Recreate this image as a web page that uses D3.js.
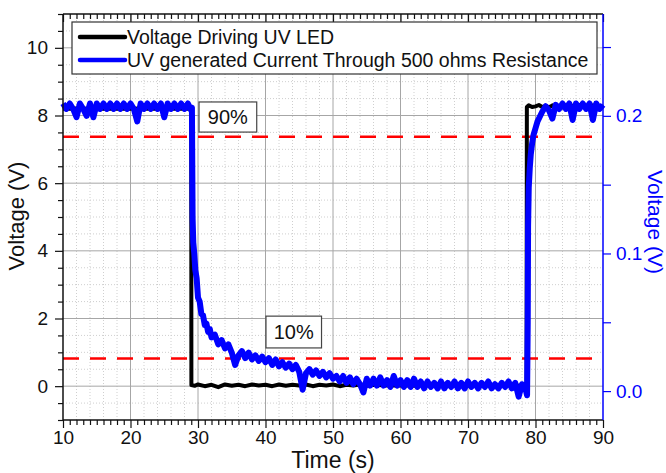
<!DOCTYPE html>
<html><head><meta charset="utf-8">
<script src="https://cdn.jsdelivr.net/npm/d3@7"></script>
<style>body{margin:0;background:#fff}svg{display:block;font-family:"Liberation Sans",Arial,sans-serif}</style>
</head><body><svg id="c" width="666" height="473"></svg>
<script>
// ---------- data ----------
const xTickValues = [10,20,30,40,50,60,70,80,90];
const yLeftTickValues = [0,2,4,6,8,10];
const yRightTickValues = [0,0.05,0.1,0.15,0.2,0.25];
const yRightLabelled = [0,0.1,0.2];
const legendLabels = ["Voltage Driving UV LED","UV generated Current Through 500 ohms Resistance"];
const thresholdValues = [7.37, 0.82];          // 90% and 10% levels (left axis, V)
const thresholdLabels = ["90%","10%"];

// Voltage driving the UV LED (left axis, V)
const blackTime = [10,12,14,16,18,20,22,24,26,28,29.0,29.02,29.5,30,31,32,33,34,35,36,37,38,39,40,41,42,43,44,45,46,47,48,49,50,51,52,53,54,55,56,58,60,62,64,66,68,70,72,74,76,78,78.68,78.72,79,79.5,80,80.5,81,81.5,82,82.5,83,83.5,84,84.5,85,85.5,86,86.5,87,87.5,88,88.5,89,89.5,90];
const blackValue = [8.2,8.21,8.2,8.21,8.2,8.21,8.2,8.21,8.2,8.21,8.2,0.03,0.01,0.05,0.0,0.04,-0.03,0.05,0.01,0.04,0.0,0.05,0.02,0.04,0.0,0.05,0.01,0.04,0.02,0.05,0.0,0.04,0.02,0.05,0.0,0.04,0.02,0.05,0.01,0.04,0.02,0.03,0.01,0.04,0.02,0.03,0.01,0.04,0.02,0.03,0.01,0.03,8.25,8.30,8.25,8.27,8.31,8.25,8.28,8.24,8.30,8.26,8.29,8.24,8.30,8.26,8.29,8.25,8.31,8.26,8.28,8.24,8.30,8.25,8.28,8.26,8.29,8.27];

// UV generated current through 500 ohm (right axis, V)
const blueTime = [10,10.5,11,11.5,12,12.5,13,13.5,14,14.5,15,15.5,16,16.5,17,17.5,18,18.5,19,19.5,20,20.5,21,21.5,22,22.5,23,23.5,24,24.5,25,25.5,26,26.5,27,27.5,28,28.5,29,29.1,
29.2,29.3,29.45,29.6,29.8,30,30.25,30.5,30.75,31,31.25,31.5,31.75,32,32.5,33,33.5,34,34.5,35,35.5,36,36.5,37,37.5,38,38.5,39,39.5,40,40.5,41,41.5,42,42.5,43,43.5,44,44.5,45,45.5,46,46.5,47,47.5,48,48.5,49,49.5,50,
50.5,51,51.5,52,52.5,53,53.5,54,54.5,55,55.5,56,56.5,57,57.5,58,58.5,59,59.5,60,60.5,61,61.5,62,62.5,63,63.5,64,64.5,65,65.5,66,66.5,67,67.5,68,68.5,69,69.5,70,70.5,71,71.5,72,72.5,73,73.5,74,74.5,75,75.5,76,76.5,77,77.5,78,78.5,78.75,
78.85,78.9,79,79.15,79.3,79.5,79.7,80,80.3,80.6,81,81.5,82,82.5,83,83.5,84,84.5,85,85.5,86,86.5,87,87.5,88,88.5,89,89.5,90];
const blueValue = [0.209,0.205,0.209,0.205,0.199,0.209,0.205,0.200,0.209,0.199,0.209,0.205,0.209,0.205,0.209,0.205,0.209,0.205,0.209,0.205,0.209,0.205,0.196,0.209,0.205,0.209,0.205,0.209,0.205,0.209,0.199,0.209,0.205,0.209,0.205,0.209,0.205,0.209,0.204,0.206,
0.126,0.108,0.100,0.088,0.082,0.068,0.065,0.056,0.055,0.048,0.049,0.043,0.045,0.039,0.041,0.034,0.037,0.031,0.034,0.028,0.019,0.026,0.029,0.024,0.028,0.023,0.026,0.022,0.025,0.021,0.024,0.019,0.023,0.018,0.021,0.017,0.020,0.016,0.019,0.014,0.001,0.013,0.016,0.012,0.015,0.011,0.014,0.010,0.013,0.009,
0.011,0.007,0.011,0.006,0.010,0.005,0.009,0.005,-0.001,0.009,0.004,0.009,0.004,0.010,0.004,0.008,0.003,0.011,0.004,0.008,0.003,0.008,0.003,0.009,0.003,0.007,0.002,0.007,0.003,0.006,0.002,0.007,0.002,0.006,0.003,0.007,0.002,0.006,0.002,0.007,0.003,0.006,0.002,0.006,0.003,0.007,0.002,0.005,0.002,0.006,0.003,0.007,0.002,0.006,-0.004,0.005,0.002,-0.003,
0.05,0.12,0.148,0.162,0.172,0.180,0.186,0.191,0.196,0.199,0.203,0.207,0.204,0.198,0.208,0.205,0.209,0.205,0.209,0.197,0.209,0.205,0.209,0.205,0.209,0.197,0.209,0.205,0.208];

// ---------- drawing ----------
const L = 63, R = 603, T = 14, B = 420;
const svg = d3.select("#c");
const x = d3.scaleLinear().domain([10,90]).range([L,R]);
const yL = d3.scaleLinear().domain([-1,11]).range([B,T]);
const yR = d3.scaleLinear().domain([-0.021,0.274]).range([B,T]);
const BLUE = "#0000ff";

// minor dotted grid
const xMinor = d3.range(12,90,2).filter(v => v % 10 !== 0);
const yMinor = d3.range(-0.5,11,0.5).filter(v => v % 2 !== 0);
const g = svg.append("g");
g.selectAll(".vxm").data(xMinor).join("line")
  .attr("x1",d=>x(d)).attr("x2",d=>x(d)).attr("y1",T).attr("y2",B)
  .attr("stroke","#cfcfcf").attr("stroke-width",1).attr("stroke-dasharray","1,2");
g.selectAll(".hym").data(yMinor).join("line")
  .attr("x1",L).attr("x2",R).attr("y1",d=>yL(d)).attr("y2",d=>yL(d))
  .attr("stroke","#cfcfcf").attr("stroke-width",1).attr("stroke-dasharray","1,2");
// major grid
g.selectAll(".vx").data(xTickValues.slice(1,-1)).join("line")
  .attr("x1",d=>x(d)).attr("x2",d=>x(d)).attr("y1",T).attr("y2",B)
  .attr("stroke","#a6a6a6").attr("stroke-width",1);
g.selectAll(".hy").data(yLeftTickValues).join("line")
  .attr("x1",L).attr("x2",R).attr("y1",d=>yL(d)).attr("y2",d=>yL(d))
  .attr("stroke","#a6a6a6").attr("stroke-width",1);

// threshold lines
svg.selectAll(".thr").data(thresholdValues).join("line")
  .attr("x1",L).attr("x2",R).attr("y1",d=>yL(d)).attr("y2",d=>yL(d))
  .attr("stroke","#ff0000").attr("stroke-width",2.5).attr("stroke-dasharray","16,11");

// data lines
const blackData = blackTime.map((t,i)=>[t,blackValue[i]]);
const blueData = blueTime.map((t,i)=>[t,blueValue[i]]);
svg.append("path").datum(blackData)
  .attr("d", d3.line().x(d=>x(d[0])).y(d=>yL(d[1])))
  .attr("fill","none").attr("stroke","#000").attr("stroke-width",4).attr("stroke-linejoin","round");
svg.append("path").datum(blueData)
  .attr("d", d3.line().x(d=>x(d[0])).y(d=>yR(d[1])))
  .attr("fill","none").attr("stroke",BLUE).attr("stroke-width",6).attr("stroke-linejoin","round");

// annotation boxes
const annot = [{t:thresholdLabels[0], x0:30.15, x1:38.7, y0:8.40, y1:7.51},
               {t:thresholdLabels[1], x0:40.07, x1:48.3, y0:2.07, y1:1.13}];
annot.forEach(a=>{
  svg.append("rect").attr("x",x(a.x0)).attr("y",yL(a.y0))
    .attr("width",x(a.x1)-x(a.x0)).attr("height",yL(a.y1)-yL(a.y0))
    .attr("fill","#fff").attr("stroke","#444").attr("stroke-width",1.2);
  svg.append("text").attr("x",(x(a.x0)+x(a.x1))/2).attr("y",(yL(a.y0)+yL(a.y1))/2+7)
    .attr("text-anchor","middle").attr("font-size",20).attr("fill","#111").text(a.t);
});

// axes
const fmtNone = () => "";
const xMinorTicks = d3.range(10,91,1).filter(v => v % 10 !== 0);
const yMinorTicks = d3.range(-1,11.01,0.5).filter(v => v % 2 !== 0);
function styleAxis(sel, col){
  sel.selectAll("path").remove();
  sel.selectAll("line").attr("stroke",col).attr("stroke-width",1.2);
  sel.selectAll("text").attr("fill",col).attr("font-size",19).attr("font-family","Liberation Sans, Arial, sans-serif");
}
svg.append("g").attr("transform",`translate(0,${B})`)
  .call(d3.axisBottom(x).tickValues(xTickValues).tickSize(8).tickPadding(3).tickFormat(d3.format("d")))
  .call(s=>styleAxis(s,"#111"));
svg.append("g").attr("transform",`translate(0,${B})`)
  .call(d3.axisBottom(x).tickValues(xMinorTicks).tickSize(5).tickFormat(fmtNone))
  .call(s=>styleAxis(s,"#111"));
svg.append("g").attr("transform",`translate(0,${T})`)
  .call(d3.axisBottom(x).tickValues(xTickValues).tickSize(8).tickFormat(fmtNone))
  .call(s=>styleAxis(s,"#111"));
svg.append("g").attr("transform",`translate(0,${T})`)
  .call(d3.axisBottom(x).tickValues(xMinorTicks).tickSize(5).tickFormat(fmtNone))
  .call(s=>styleAxis(s,"#111"));
svg.append("g").attr("transform",`translate(${L},0)`)
  .call(d3.axisLeft(yL).tickValues(yLeftTickValues).tickSize(8).tickPadding(7).tickFormat(d3.format("d")))
  .call(s=>styleAxis(s,"#111"));
svg.append("g").attr("transform",`translate(${L},0)`)
  .call(d3.axisLeft(yL).tickValues(yMinorTicks).tickSize(5).tickFormat(fmtNone))
  .call(s=>styleAxis(s,"#111"));
svg.append("g").attr("transform",`translate(${R},0)`)
  .call(d3.axisRight(yR).tickValues(yRightTickValues).tickSize(8).tickPadding(5)
    .tickFormat(d => yRightLabelled.some(v=>Math.abs(v-d)<1e-9) ? d3.format(".1f")(d) : ""))
  .call(s=>styleAxis(s,BLUE));

// frame
svg.append("line").attr("x1",L).attr("x2",R).attr("y1",B).attr("y2",B).attr("stroke","#111").attr("stroke-width",1.5);
svg.append("line").attr("x1",L).attr("x2",R).attr("y1",T).attr("y2",T).attr("stroke","#111").attr("stroke-width",1.5);
svg.append("line").attr("x1",L).attr("x2",L).attr("y1",T).attr("y2",B).attr("stroke","#111").attr("stroke-width",1.5);
svg.append("line").attr("x1",R).attr("x2",R).attr("y1",T).attr("y2",B).attr("stroke",BLUE).attr("stroke-width",1.5);

// axis titles
svg.append("text").attr("transform","translate(24,216) rotate(-90)").attr("text-anchor","middle")
  .attr("font-size",22).attr("fill","#111").text("Voltage (V)");
svg.append("text").attr("transform","translate(648,222) rotate(90)").attr("text-anchor","middle")
  .attr("font-size",21).attr("fill",BLUE).text("Voltage (V)");
svg.append("text").attr("x",333).attr("y",468).attr("text-anchor","middle")
  .attr("font-size",23).attr("fill","#111").text("Time (s)");

// legend
const lg = svg.append("g");
lg.append("rect").attr("x",72).attr("y",22).attr("width",525).attr("height",52)
  .attr("fill","#fff").attr("stroke","#333").attr("stroke-width",1.2);
const legendColors = ["#000", BLUE];
legendLabels.forEach((lab,i)=>{
  const yy = 37 + i*23;
  lg.append("line").attr("x1",80).attr("x2",125).attr("y1",yy).attr("y2",yy)
    .attr("stroke",legendColors[i]).attr("stroke-width",4.5).attr("stroke-linecap","round");
  lg.append("text").attr("x",127).attr("y",yy+7).attr("font-size",19.5).attr("fill","#111").text(lab);
});
</script></body></html>
